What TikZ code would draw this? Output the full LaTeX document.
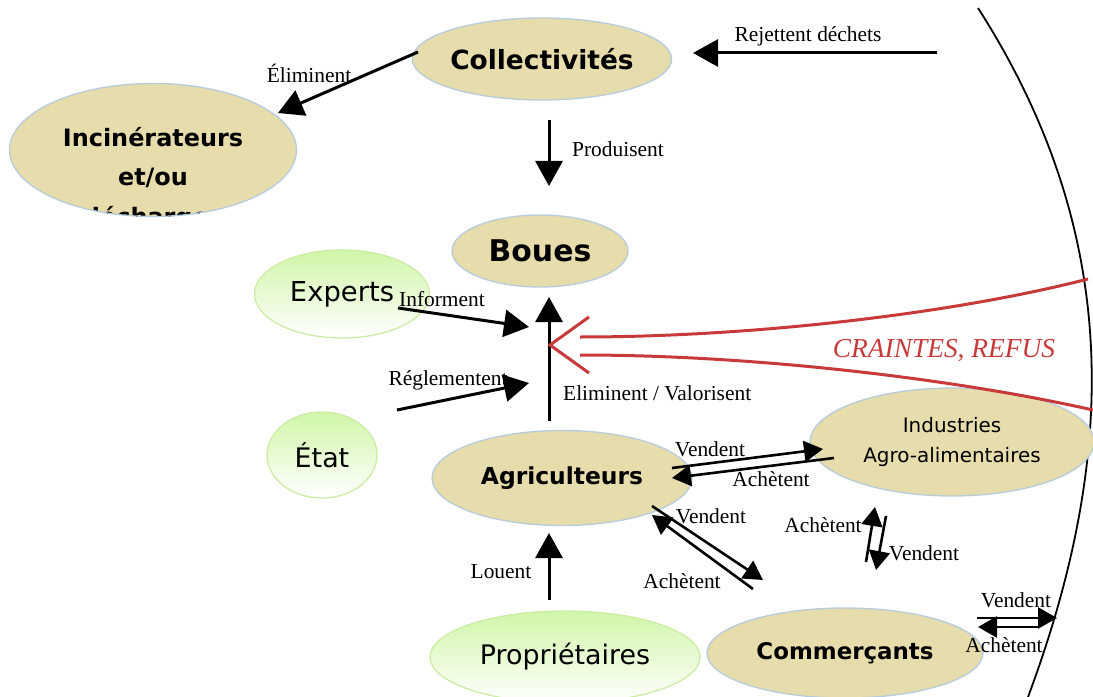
\documentclass[tikz,border=0pt]{standalone}
\usepackage{fontspec}
\setmainfont{Liberation Serif}
\newfontfamily\bulle{DejaVu Sans}
\usetikzlibrary{shapes.geometric,arrows.meta}

\definecolor{beige}{RGB}{230,220,172}
\definecolor{bord}{RGB}{182,204,220}
\definecolor{vertclair}{RGB}{208,246,168}
\definecolor{bordvert}{RGB}{205,236,165}
\definecolor{rouge}{RGB}{200,58,58}

\begin{document}
\begin{tikzpicture}[x=1bp,y=-1bp,
  acteur/.style={ellipse,draw=bord,line width=1.3bp,fill=beige,inner sep=0pt},
  tiers/.style={ellipse,draw=bordvert,line width=1.3bp,top color=vertclair,bottom color=white,inner sep=0pt},
  fleche/.style={line width=3bp,-{Triangle[length=25bp,width=27bp]}},
  petite/.style={line width=2.6bp,-{Triangle[length=19bp,width=21bp]}},
  lbl/.style={inner sep=0pt,font=\fontsize{21.5}{23}\selectfont}]

  % fixed frame, same size as the page
  \useasboundingbox (0,0) rectangle (1093,697);

  % boundary of the system
  \draw [line width=1.8bp] (978,8) .. controls (1120,230) and (1120,450) .. (1028,697);

  % the actors
  \node [acteur,minimum width=245bp,minimum height=82bp,font=\bulle\bfseries\fontsize{26.5}{30}\selectfont] (coll) at (542,59) {Collectivités};
  \node [acteur,minimum width=287bp,minimum height=133bp,
    path picture={\node [align=center,font=\bulle\bfseries\fontsize{24}{40}\selectfont] at ([yshift=-29bp]path picture bounding box.center) {Incinérateurs\\et/ou\\décharges};}] (incin) at (153,150) {};
  \node [acteur,minimum width=176bp,minimum height=72bp,font=\bulle\bfseries\fontsize{30}{36}\selectfont] (boues) at (540,251) {Boues};
  \node [acteur,minimum width=260bp,minimum height=95bp,font=\bulle\bfseries\fontsize{23.5}{28}\selectfont] (agri) at (562,478) {Agriculteurs};
  \node [acteur,minimum width=284bp,minimum height=108bp,align=center,font=\bulle\fontsize{20}{30}\selectfont] (indus) at (952,442) {Industries\\Agro-alimentaires};
  \node [acteur,minimum width=276bp,minimum height=90bp,font=\bulle\bfseries\fontsize{23}{28}\selectfont] (comm) at (845,653) {Commerçants};

  % the other actors (green)
  \node [tiers,minimum width=175bp,minimum height=88bp,font=\bulle\fontsize{27.5}{30}\selectfont] (experts) at (342,294) {Experts};
  \node [tiers,minimum width=110bp,minimum height=86bp,font=\bulle\fontsize{27}{30}\selectfont] (etat) at (322,455) {État};
  \node [tiers,minimum width=270bp,minimum height=92bp,font=\bulle\fontsize{27}{30}\selectfont] (prop) at (565,657) {Propriétaires};

  % ends of the arrows
  \coordinate (ext1) at (937,53);   \coordinate (coll1) at (693,53);
  \coordinate (coll2) at (418,52);  \coordinate (incin1) at (278,113);
  \coordinate (coll3) at (549,120); \coordinate (boues1) at (549,186);
  \coordinate (exp1) at (398,308);  \coordinate (boues2) at (529,327);
  \coordinate (etat1) at (397,410); \coordinate (boues3) at (529,383);
  \coordinate (agri1) at (549,421); \coordinate (boues4) at (549,297);
  \coordinate (prop1) at (549,600); \coordinate (agri2) at (549,533);

  % main arrows
  \draw [fleche] (ext1) -- (coll1);
  \draw [fleche] (coll2) -- (incin1);
  \draw [fleche] (coll3) -- (boues1);
  \draw [fleche] (exp1) -- (boues2);
  \draw [fleche] (etat1) -- (boues3);
  \draw [fleche] (agri1) -- (boues4);
  \draw [fleche] (prop1) -- (agri2);

  % exchanges, one arrow each way
  \coordinate (agri3) at (672,468); \coordinate (indus1) at (823,449);
  \coordinate (indus2) at (834,458); \coordinate (agri4) at (672,478);
  \coordinate (agri5) at (652,506); \coordinate (comm1) at (763,580);
  \coordinate (comm2) at (753,589); \coordinate (agri6) at (652,515);
  \coordinate (comm3) at (866,562); \coordinate (indus3) at (875,507);
  \coordinate (indus4) at (886,516); \coordinate (comm4) at (876,570);
  \coordinate (comm5) at (977,618); \coordinate (ext2) at (1057,618);
  \coordinate (ext3) at (1040,627); \coordinate (comm6) at (978,627);
  \foreach \a/\b in {agri3/indus1,indus2/agri4,agri5/comm1,comm2/agri6,
                     comm3/indus3,indus4/comm4,comm5/ext2,ext3/comm6}
    \draw [petite] (\a) -- (\b);

  % labels of the arrows
  \node [lbl] (lrejet) at (808,36) {Rejettent déchets};
  \node [lbl] (lelim) at (309,73) {Éliminent};
  \node [lbl,anchor=west] (lprod) at (572,149) {Produisent};
  \node [lbl] (linfo) at (442,299) {Informent};
  \node [lbl] (lregl) at (448,380) {Réglementent};
  \node [lbl,anchor=west] (lvalo) at (563,393) {Eliminent / Valorisent};
  \node [lbl] (llouent) at (501,572) {Louent};
  \node [lbl] (lv1) at (710,449) {Vendent};
  \node [lbl] (la1) at (771,479) {Achètent};
  \node [lbl] (lv2) at (711,516) {Vendent};
  \node [lbl] (la2) at (682,581) {Achètent};
  \node [lbl] (la3) at (823,525) {Achètent};
  \node [lbl] (lv3) at (924,553) {Vendent};
  \node [lbl] (lv4) at (1016,600) {Vendent};
  \node [lbl] (la4) at (1004,645) {Achètent};

  % fears and refusals
  \draw [rouge,line width=3bp] (1088,279) .. controls (960,312) and (760,337) .. (580,337);
  \draw [rouge,line width=3bp] (580,355) .. controls (760,355) and (960,380) .. (1093,410);
  \draw [rouge,line width=3bp] (589,317) -- (550,345) -- (589,373);
  \node [rouge,inner sep=0pt,font=\itshape\fontsize{27.5}{30}\selectfont] (craintes) at (944,351) {CRAINTES, REFUS};

\end{tikzpicture}
\end{document}
